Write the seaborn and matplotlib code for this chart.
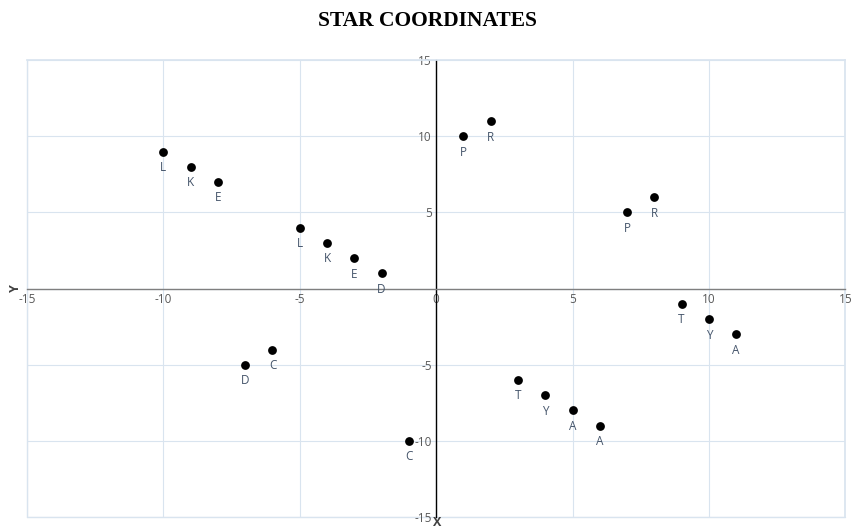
import matplotlib
matplotlib.use("Agg")
import matplotlib.pyplot as plt
import seaborn as sns
import pandas as pd

x_vals = [-10, -9, -8, -5, -4, -3, -2, -7, -6, -1, 1, 2, 7, 8, 9, 10, 11, 3, 4, 5, 6]
y_vals = [9, 8, 7, 4, 3, 2, 1, -5, -4, -10, 10, 11, 5, 6, -1, -2, -3, -6, -7, -8, -9]
letters = ["L", "K", "E", "L", "K", "E", "D", "D", "C", "C", "P", "R", "P", "R",
           "T", "Y", "A", "T", "Y", "A", "A"]
ticks = [-15, -10, -5, 0, 5, 10, 15]

df = pd.DataFrame({"x": x_vals, "y": y_vals, "label": letters})

sns.set_theme(style="white")
plt.rcParams['font.family'] = ['Open Sans', 'DejaVu Sans']

fig = plt.figure(figsize=(8.55, 5.32), dpi=100)
ax = fig.add_axes([0.0316, 0.028, 0.957, 0.859])

sns.scatterplot(data=df, x="x", y="y", color="black", s=40, edgecolor="black",
                linewidth=0, ax=ax, zorder=5, legend=False)

for _, r in df.iterrows():
    ax.annotate(r["label"], (r["x"], r["y"]), xytext=(0, -11.5), textcoords="offset points",
                ha="center", va="center", fontsize=8.5, color="#44546a")

ax.set_xlim(-15, 15)
ax.set_ylim(-15, 15)
ax.set_xticks(ticks)
ax.set_yticks(ticks)
ax.grid(True, color="#d9e4ef", linewidth=0.8)
ax.set_axisbelow(True)
ax.axhline(-15, color="#d9e4ef", linewidth=1.0, clip_on=False, zorder=0)
ax.axvline(-15, color="#d9e4ef", linewidth=1.0, clip_on=False, zorder=0)

for side in ["top", "right"]:
    ax.spines[side].set_visible(True)
    ax.spines[side].set_color("#d9e4ef")
ax.spines["left"].set_position(("data", 0))
ax.spines["bottom"].set_position(("data", 0))
ax.spines["left"].set_color("black")
ax.spines["left"].set_linewidth(1.0)
ax.spines["bottom"].set_color("#7f7f7f")
ax.spines["bottom"].set_linewidth(1.0)

ax.tick_params(axis="both", length=0, labelsize=8.5, labelcolor="#595959")
ax.tick_params(axis="x", pad=3)
ax.tick_params(axis="y", pad=3)
ax.set_xticklabels([str(t) for t in ticks])
ax.set_yticklabels([str(t) if t != 0 else "" for t in ticks])

ax.set_xlabel("")
ax.set_ylabel("")
fig.text(437 / 855, 1 - 523 / 532, "X", ha="center", va="center", fontsize=9,
         fontweight="bold", color="#404040")
fig.text(15 / 855, 1 - 288 / 532, "Y", ha="center", va="center", fontsize=9,
         fontweight="bold", color="#404040", rotation=90)

fig.text(0.5, 1 - 21 / 532, "STAR COORDINATES", ha="center", va="center",
         fontsize=15.5, fontweight="bold", color="black",
         family=["Liberation Serif", "DejaVu Serif"])

fig.savefig("out.png", dpi=100, facecolor="white")
